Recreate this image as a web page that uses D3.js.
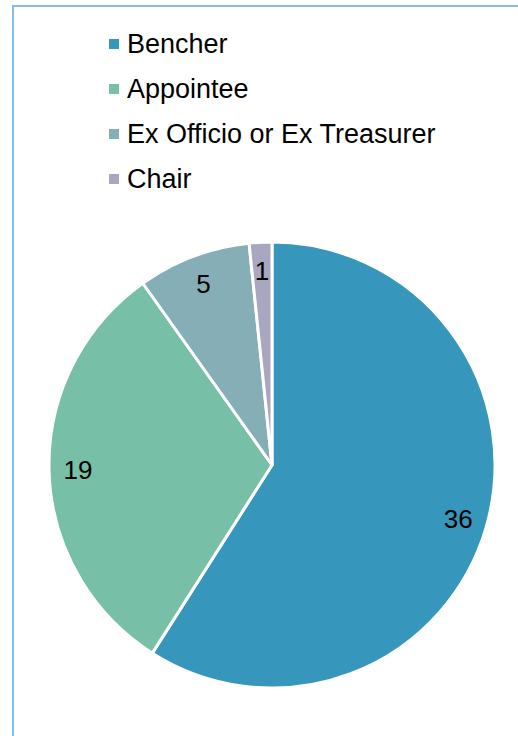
<!DOCTYPE html>
<html>
<head>
<meta charset="utf-8">
<script src="https://cdn.jsdelivr.net/npm/d3@7/dist/d3.min.js"></script>
<style>
  html, body { margin: 0; padding: 0; background: #fff; }
  svg { display: block; }
</style>
</head>
<body>
<svg id="chart" width="518" height="736"></svg>
<script>
// Membership composition
const categories = ["Bencher", "Appointee", "Ex Officio or Ex Treasurer", "Chair"];
const counts = [36, 19, 5, 1];
const colors = ["#3796BC", "#77BFA7", "#86AEB6", "#A9A6BF"];

const svg = d3.select("#chart");
const W = 518, H = 736;
const FONT = "'Liberation Sans', Arial, sans-serif";

// Frame (open on right and bottom)
svg.append("path")
  .attr("d", `M13,${H + 5} L13,6 L${W + 5},6`)
  .attr("fill", "none")
  .attr("stroke", "#85BDE8")
  .attr("stroke-width", 2);

// Legend
const legend = svg.append("g").attr("transform", "translate(109,44)");
const row = legend.selectAll("g").data(categories).join("g")
  .attr("transform", (d, i) => `translate(0,${i * 45})`);
row.append("rect")
  .attr("x", 0).attr("y", -5)
  .attr("width", 10).attr("height", 10)
  .attr("fill", (d, i) => colors[i]);
row.append("text")
  .attr("x", 18).attr("y", 0)
  .attr("dy", "0.35em")
  .attr("font-family", FONT)
  .attr("font-size", 27)
  .attr("fill", "#000")
  .text(d => d);

// Pie
const cx = 272, cy = 465, R = 223;
const pie = d3.pie().sort(null).value(d => d.value);
const arcs = pie(categories.map((c, i) => ({ name: c, value: counts[i], i })));
const arc = d3.arc().innerRadius(0).outerRadius(R);
const labelArc = d3.arc().innerRadius(R * 0.87).outerRadius(R * 0.87);

const g = svg.append("g").attr("transform", `translate(${cx},${cy})`);
g.selectAll("path").data(arcs).join("path")
  .attr("d", arc)
  .attr("fill", d => colors[d.data.i])
  .attr("stroke", "#fff")
  .attr("stroke-width", 3)
  .attr("stroke-linejoin", "round");

g.selectAll("text").data(arcs).join("text")
  .attr("transform", d => {
    const [x, y] = labelArc.centroid(d);
    return `translate(${x},${y})`;
  })
  .attr("text-anchor", "middle")
  .attr("dy", "0.35em")
  .attr("font-family", FONT)
  .attr("font-size", 26)
  .attr("fill", "#000")
  .text(d => d.data.value);
</script>
</body>
</html>
